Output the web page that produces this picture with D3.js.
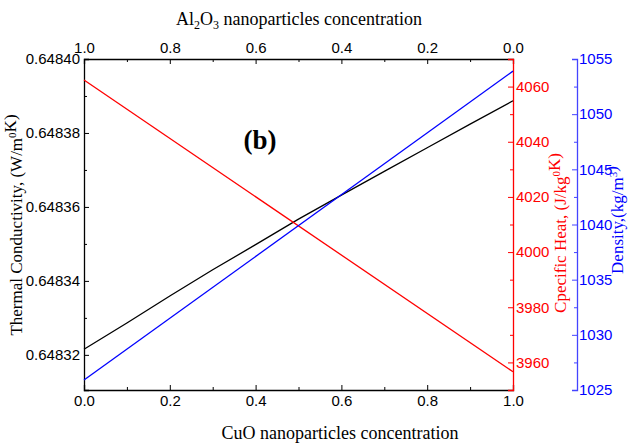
<!DOCTYPE html>
<html>
<head>
<meta charset="utf-8">
<script src="https://cdn.jsdelivr.net/npm/d3@7"></script>
<style>
    body { margin: 0; background: #fff; }
    .title { font-family: "Liberation Serif", "Times New Roman", serif; font-size: 18px; }
    .vtitle { font-size: 17px; }
</style>
</head>
<body>
<div id="chart"></div>
<script>
// data
const cuoK = [0, 0.1, 0.2, 0.3, 0.4, 0.5, 0.6, 0.7, 0.8, 0.9, 1.0];
const conductivity = [0.6483215, 0.6483286, 0.6483359, 0.6483430, 0.6483498, 0.6483567,
    0.6483632, 0.6483696, 0.6483760, 0.6483824, 0.6483887];
const cuoEnds = [0, 1];
const specificHeat = [4062.4, 3956.6];
const density = [1025.9, 1053.9];

const xTicks = [0, 0.2, 0.4, 0.6, 0.8, 1.0];
const kTicks = [0.64832, 0.64834, 0.64836, 0.64838, 0.64840];
const cpTicks = [3960, 3980, 4000, 4020, 4040, 4060];
const rhoTicks = [1025, 1030, 1035, 1040, 1045, 1050, 1055];

// margin convention
const svgWidth = 628,
    svgHeight = 445,
    margin = { top: 59, right: 115, bottom: 55, left: 84 },
    width = svgWidth - margin.left - margin.right,
    height = svgHeight - margin.top - margin.bottom;

const svg = d3.select("#chart").append("svg")
    .attr("width", svgWidth)
    .attr("height", svgHeight);
const g = svg.append("g")
    .attr("transform", `translate(${margin.left},${margin.top})`);

// scales
const xScale = d3.scaleLinear().domain([0, 1]).range([0, width]);
const xTopScale = d3.scaleLinear().domain([1, 0]).range([0, width]);
const kScale = d3.scaleLinear().domain([0.6483105, 0.64840]).range([height, 0]);
const cpScale = d3.scaleLinear().domain([3950, 4070]).range([height, 0]);
const rhoScale = d3.scaleLinear().domain([1025, 1055]).range([height, 0]);

const blueX = width + 64;

// minor ticks first, then major axes on top
function minor(axis, values, sel, color) {
    sel.call(axis.tickValues(values).tickSize(-3).tickFormat(""));
    sel.select(".domain").remove();
    sel.selectAll("line").attr("stroke", color);
}
minor(d3.axisBottom(xScale), d3.range(0.1, 1, 0.2), g.append("g").attr("transform", `translate(0,${height})`), "#000");
minor(d3.axisTop(xTopScale), d3.range(0.1, 1, 0.2), g.append("g"), "#000");
minor(d3.axisLeft(kScale), [0.64833, 0.64835, 0.64837, 0.64839], g.append("g"), "#000");
minor(d3.axisRight(cpScale), [3970, 3990, 4010, 4030, 4050, 4070], g.append("g").attr("transform", `translate(${width},0)`), "#f00");
minor(d3.axisRight(rhoScale), [1027.5, 1032.5, 1037.5, 1042.5, 1047.5, 1052.5], g.append("g").attr("transform", `translate(${blueX},0)`), "#4444ff");

// bottom axis
const xAxis = g.append("g")
    .attr("transform", `translate(0,${height})`)
    .call(d3.axisBottom(xScale).tickValues(xTicks).tickSize(-5).tickPadding(5).tickFormat(d3.format(".1f")));

// top axis
const xTopAxis = g.append("g")
    .call(d3.axisTop(xTopScale).tickValues(xTicks).tickSize(-5).tickPadding(6).tickFormat(d3.format(".1f")));

// left axis
const kAxis = g.append("g")
    .call(d3.axisLeft(kScale).tickValues(kTicks).tickSize(-5).tickPadding(4).tickFormat(d3.format(".5f")));

// red axis
const cpAxis = g.append("g")
    .attr("transform", `translate(${width},0)`)
    .call(d3.axisRight(cpScale).tickValues(cpTicks).tickSize(-5).tickPadding(3).tickFormat(d3.format("d")));
cpAxis.selectAll("line, .domain").attr("stroke", "#f00");
cpAxis.selectAll("text").attr("fill", "#f00");

// blue axis
const rhoAxis = g.append("g")
    .attr("transform", `translate(${blueX},0)`)
    .call(d3.axisRight(rhoScale).tickValues(rhoTicks).tickSize(-5).tickPadding(2).tickFormat(d3.format("d")));
rhoAxis.selectAll("line, .domain").attr("stroke", "#4444ff");
rhoAxis.selectAll("text").attr("fill", "#0000ff");

svg.selectAll(".domain").attr("stroke-width", 1.3);
svg.selectAll(".tick text")
    .attr("font-family", "Liberation Sans, Arial, sans-serif")
    .attr("font-size", 15);

// lines
const series = [
    { x: cuoK, values: conductivity, y: kScale, color: "#000" },
    { x: cuoEnds, values: specificHeat, y: cpScale, color: "#f00" },
    { x: cuoEnds, values: density, y: rhoScale, color: "#00f" }
];
series.forEach((s) => {
    const line = d3.line()
        .x((d, i) => xScale(s.x[i]))
        .y((d) => s.y(d));
    g.append("path")
        .datum(s.values)
        .attr("fill", "none")
        .attr("stroke", s.color)
        .attr("stroke-width", 1.3)
        .attr("d", line);
});

// titles
const bottomTitle = svg.append("text")
    .attr("class", "title")
    .attr("x", 340).attr("y", 439)
    .attr("text-anchor", "middle")
    .text("CuO nanoparticles concentration");

const topTitle = svg.append("text")
    .attr("class", "title")
    .attr("x", 299).attr("y", 25)
    .attr("text-anchor", "middle");
topTitle.append("tspan").text("Al");
topTitle.append("tspan").attr("font-size", 12).attr("dy", 4).text("2");
topTitle.append("tspan").attr("dy", -4).text("O");
topTitle.append("tspan").attr("font-size", 12).attr("dy", 4).text("3");
topTitle.append("tspan").attr("dy", -4).text(" nanoparticles concentration");

function rotatedTitle(x, y, color, parts) {
    const t = svg.append("text")
        .attr("class", "title vtitle")
        .attr("fill", color)
        .attr("text-anchor", "middle")
        .attr("transform", `translate(${x},${y}) rotate(-90)`);
    parts.forEach((p) => {
        if (p.sup) {
            t.append("tspan").attr("font-size", 11).attr("dy", -6).text(p.sup);
            t.append("tspan").attr("dy", 6).text("");
        } else {
            t.append("tspan").text(p.t);
        }
    });
    return t;
}
rotatedTitle(22, 225, "#000", [{ t: "Thermal Conductivity, (W/m" }, { sup: "0" }, { t: "K)" }]);
rotatedTitle(566, 233, "#f00", [{ t: "Cpecific Heat, (J/kg" }, { sup: "0" }, { t: "K)" }]);
rotatedTitle(623, 220, "#00f", [{ t: "Density,(kg/m" }, { sup: "3" }, { t: ")" }]);

// panel label
svg.append("text")
    .attr("x", 260).attr("y", 149)
    .attr("text-anchor", "middle")
    .attr("font-family", "Liberation Serif, Times New Roman, serif")
    .attr("font-weight", "bold")
    .attr("font-size", 27)
    .text("(b)");
</script>
</body>
</html>
